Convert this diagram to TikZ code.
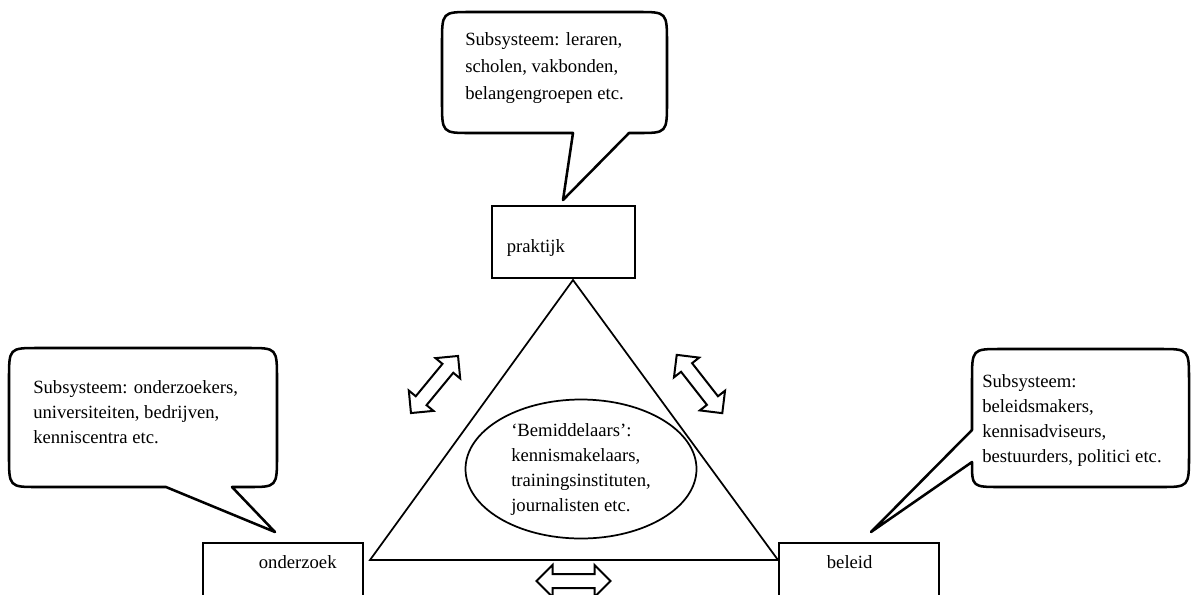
\documentclass[tikz,border=0pt]{standalone}
\usepackage{fontspec}
\setmainfont{Liberation Serif}
\usetikzlibrary{shapes.geometric}
\tikzset{
  every picture/.style={x=0.75pt,y=-0.75pt},
  txt/.style={font=\fontsize{14pt}{18.75pt}\selectfont, inner sep=0pt, align=left},
  box/.style={draw, line width=1.3pt, rectangle, inner sep=0pt, align=left, font=\fontsize{14pt}{18.75pt}\selectfont},
  callout/.style={draw, line width=1.9pt, fill=white, line join=round},
  tri/.style={draw, line width=1.3pt},
  arrowline/.style={draw, line width=1.5pt, fill=white, line join=miter},
  dbl/.pic={\path[arrowline] (-37,0) -- (-21,-16) -- (-21,-7) -- (21,-7) -- (21,-16) -- (37,0) -- (21,16) -- (21,7) -- (-21,7) -- (-21,16) -- cycle;}
}
\begin{document}
\begin{tikzpicture}
\useasboundingbox (0,0) rectangle (1191,594);
\clip (0,0) rectangle (1191,594);
\fill[white] (0,0) rectangle (1191,594);

% boxes
\node[box, anchor=north west, text width=107.25pt, text height=35.25pt, text depth=18.75pt] (praktijk) at (491,205) {\hspace*{11.25pt}praktijk};
\node[box, anchor=north west, text width=120pt, text height=19.5pt, text depth=54pt] (onderzoek) at (202,542) {\hspace*{42pt}onderzoek};
\node[box, anchor=north west, text width=120pt, text height=19.5pt, text depth=54pt] (beleid) at (778,542) {\hspace*{36pt}beleid};

% triangle
\coordinate (apex) at (573,280);
\coordinate (lv) at (370,560);
\coordinate (rv) at (778,560);
\path[tri] (apex) -- (lv) -- (rv) -- cycle;

% ellipse
\node[draw, ellipse, line width=1.3pt, minimum width=173.25pt, minimum height=104.25pt, inner sep=0pt, txt] (bem) at (581,469)
  {‘Bemiddelaars’:\\kennismakelaars,\\trainingsinstituten,\\journalisten etc.};

% double arrows
\pic (a1) [rotate=50.5] at (434.5,384.5) {dbl};
\pic (a2) [rotate=-52] at (699.5,384) {dbl};
\pic (a3) at (573.5,581) {dbl};

% top callout
\coordinate (t1) at (563,200);
\path[callout] (573,133) -- (t1) -- (629,133) -- (638,133) .. controls (667,133) .. (667,101) -- (667,44) .. controls (667,12) .. (638,12) -- (471,12) .. controls (442,12) .. (442,44) -- (442,101) .. controls (442,133) .. (471,133) -- cycle;
\node[txt, font=\fontsize{14pt}{20pt}\selectfont, anchor=base west] (ttext) at (465,99) {Subsysteem: leraren,\\scholen, vakbonden,\\belangengroepen etc.};

% left callout
\coordinate (t2) at (275,532);
\path[callout] (232,487) -- (t2) -- (166,487) -- (38,487) .. controls (9,487) .. (9,455) -- (9,380) .. controls (9,348) .. (38,348) -- (248,348) .. controls (277,348) .. (277,380) -- (277,455) .. controls (277,487) .. (248,487) -- cycle;
\node[txt, anchor=base west] (ltext) at (33,443) {Subsysteem: onderzoekers,\\universiteiten, bedrijven,\\kenniscentra etc.};

% right callout
\coordinate (t3) at (871,532);
\path[callout] (972,430) -- (t3) -- (972,462) .. controls (972,487) .. (1001,487) -- (1160,487) .. controls (1189,487) .. (1189,455) -- (1189,381) .. controls (1189,349) .. (1160,349) -- (1001,349) .. controls (972,349) .. (972,381) -- cycle;
\node[txt, anchor=base west] (rtext) at (982,462) {Subsysteem:\\beleidsmakers,\\kennisadviseurs,\\bestuurders, politici etc.};
\end{tikzpicture}
\end{document}
